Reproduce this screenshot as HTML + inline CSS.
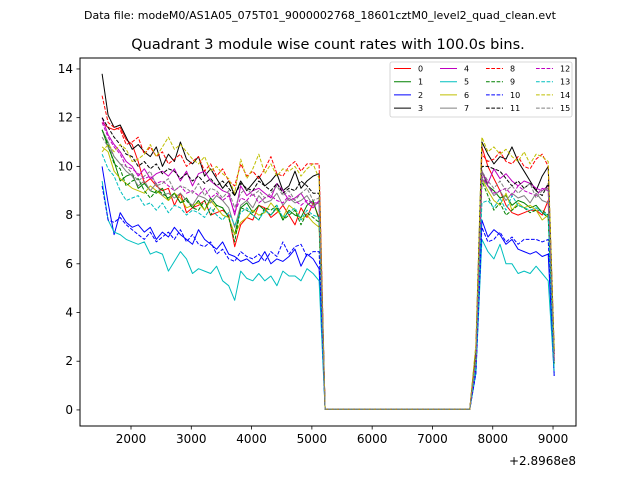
<!DOCTYPE html>
<html><head><meta charset="utf-8"><style>
body{margin:0;background:#fff;font-family:"Liberation Sans","DejaVu Sans",sans-serif;}
svg text{font-family:"DejaVu Sans","Liberation Sans",sans-serif;}
</style></head><body>
<svg id="chart" width="640" height="480" xmlns="http://www.w3.org/2000/svg">
<rect width="640" height="480" fill="#fff"/>
<text x="320" y="19" font-size="11" text-anchor="middle">Data file: modeM0/AS1A05_075T01_9000002768_18601cztM0_level2_quad_clean.evt</text>
<text x="328" y="49" font-size="14.5" text-anchor="middle">Quadrant 3 module wise count rates with 100.0s bins.</text>
<g id="plot"></g>
<rect x="80" y="58" width="496" height="368" fill="none" stroke="#000" stroke-width="1"/>
<g id="axes"></g>
<text x="576" y="465" font-size="12" text-anchor="end">+2.8968e8</text>
<g id="legend"></g>
</svg>
<script>
const seriesNames = ["0","1","2","3","4","5","6","7","8","9","10","11","12","13","14","15"];
const startTime = 1520;
const binSize = 100;
const xTicks = [2000,3000,4000,5000,6000,7000,8000,9000];
const yTicks = [0,2,4,6,8,10,12,14];
const offZeros = [0.03,0.03,0.03,0.03,0.03,0.03,0.03,0.03,0.03,0.03,0.03,0.03,0.03,0.03,0.03,0.03,0.03,0.03,0.03,0.03,0.03,0.03,0.03,0.03,0.03];
const rampUp = [2.2,2.0,1.6,2.5,2.1,1.5,2.3,2.0,2.6,1.9,1.5,2.4,2.0,1.8,2.7,2.1];
const rampDown = [2.2,2.0,1.4,2.4,2.1,1.5,2.3,2.0,2.5,1.9,1.4,2.3,2.0,1.6,2.5,2.0];
const seg1 = [
[11.8,11.6,11.5,11.6,11.1,10.9,10.2,9.3,9.5,9.2,9.0,9.1,8.4,8.9,8.1,8.3,8.4,8.6,8.0,8.1,8.2,8.0,6.7,7.6,7.9,7.8,8.4,8.3,7.9,8.1,8.4,8.0,7.6,8.3,7.9,8.5,7.9],
[11.5,10.8,10.2,9.4,9.6,9.7,9.1,9.3,9.0,8.9,9.1,8.6,8.9,8.5,8.7,8.3,8.6,8.2,8.7,8.4,8.3,7.9,7.2,8.3,8.5,8.1,8.4,8.2,8.0,8.3,7.8,8.2,8.0,7.9,8.4,8.6,7.8],
[10.0,8.5,7.2,8.1,7.7,7.5,7.6,7.3,7.5,7.0,7.3,7.1,7.5,7.2,7.0,6.8,7.4,7.0,6.8,6.6,6.9,6.4,6.3,6.1,6.2,6.0,6.1,6.5,6.0,6.2,6.1,6.3,6.6,5.9,6.4,6.2,5.8],
[13.8,12.1,11.6,11.7,11.2,10.7,10.9,10.6,10.4,10.8,10.0,10.5,10.2,11.0,10.3,10.1,10.4,9.6,9.9,9.5,9.1,9.4,8.8,9.4,9.0,9.3,9.6,9.2,9.4,9.7,9.0,9.2,9.8,9.1,9.4,9.6,9.7],
[12.0,11.3,10.9,10.6,10.2,10.0,9.6,9.9,9.5,9.7,9.8,9.6,9.9,9.4,9.8,9.2,9.7,9.8,9.4,9.2,9.0,8.9,8.0,9.2,8.8,9.0,9.1,8.9,8.7,9.3,9.0,8.6,8.7,8.9,8.5,8.3,8.6],
[9.4,7.8,7.3,7.2,7.0,6.9,6.8,6.9,6.4,6.5,6.4,5.7,6.1,6.5,6.2,5.6,5.8,5.7,5.6,5.9,5.3,5.1,4.5,5.7,5.4,5.3,5.6,5.3,5.5,5.1,5.7,5.5,5.5,5.3,5.8,5.6,5.3],
[10.8,10.6,9.8,9.5,9.3,9.1,9.0,8.9,9.2,9.0,8.8,8.6,8.9,8.7,8.3,8.4,8.5,8.2,8.6,8.3,8.0,7.9,7.2,7.7,7.9,8.2,8.0,8.1,8.5,8.2,7.9,8.4,8.2,7.8,8.0,7.7,7.5],
[11.5,11.0,10.4,10.1,9.8,9.6,9.2,9.4,9.0,9.3,8.8,8.9,8.7,8.9,8.6,8.4,8.8,8.7,8.5,8.8,8.6,8.3,7.5,8.4,8.6,8.3,8.8,8.5,8.6,8.9,8.4,8.7,8.5,8.6,8.8,8.4,8.5],
[12.9,11.8,11.6,11.5,10.9,11.0,11.2,10.5,10.8,10.4,10.6,10.1,10.3,10.5,10.0,10.2,10.4,9.8,10.1,9.6,9.9,9.4,9.2,10.1,9.6,9.8,9.5,9.9,10.4,9.7,9.6,10.0,10.2,9.8,10.1,10.1,10.1],
[11.5,10.9,10.1,9.9,9.2,9.4,9.5,9.0,8.7,9.0,8.9,8.7,8.9,8.5,8.6,8.3,8.2,8.6,8.0,8.4,8.3,7.9,6.9,8.3,8.2,8.0,7.8,8.3,8.2,8.4,7.8,8.0,8.2,7.6,8.1,7.9,7.7],
[9.2,7.8,7.7,7.9,7.6,7.4,7.2,7.0,7.3,6.9,7.1,7.3,7.0,7.4,6.9,7.2,6.8,6.7,6.9,6.4,6.6,6.2,6.1,6.5,6.3,6.2,6.4,6.1,6.5,6.3,6.9,6.4,6.7,6.8,6.3,6.5,6.5],
[12.0,11.6,11.2,10.9,10.5,10.4,10.0,10.2,9.9,10.1,9.7,9.9,9.8,9.5,9.7,9.4,9.6,9.3,9.5,9.2,9.4,9.1,8.8,9.3,9.1,9.0,9.4,9.2,9.0,9.3,8.9,9.1,9.0,9.4,9.2,8.9,8.9],
[11.8,11.2,10.8,10.5,10.0,9.9,9.7,9.5,9.6,9.3,9.4,9.2,9.0,9.2,8.9,9.0,8.8,9.1,8.7,8.9,8.6,8.8,8.1,8.7,8.6,8.9,8.5,8.7,8.8,8.6,8.5,8.8,8.6,8.4,8.6,8.5,8.5],
[10.5,9.9,9.6,9.0,8.6,8.7,8.8,8.4,8.5,8.2,8.5,8.1,8.4,8.3,8.0,8.2,8.1,7.9,8.3,8.0,7.8,8.1,7.6,8.1,8.3,8.0,7.8,8.2,8.0,8.4,7.9,8.1,8.3,7.8,8.2,8.0,7.9],
[10.6,10.9,10.6,10.9,10.7,10.2,10.3,10.5,10.9,10.4,10.8,11.2,10.7,10.9,10.6,10.3,10.1,10.4,9.8,10.0,9.7,9.5,8.9,10.3,9.5,9.9,10.5,9.7,10.1,9.6,9.9,9.8,10.0,9.6,9.9,10.1,9.5],
[11.2,10.8,10.4,10.1,10.0,9.7,9.4,9.6,9.8,9.2,9.3,9.5,9.0,9.2,9.1,8.9,9.3,8.8,9.1,9.0,8.7,9.0,8.3,8.9,9.1,8.8,9.0,8.7,8.9,9.2,8.8,9.0,8.6,8.9,9.1,8.6,8.7]
];
const seg2 = [
[10.8,10.0,9.5,9.0,8.4,8.1,8.0,8.1,8.2,8.2,8.0,8.6],
[9.8,9.2,9.0,8.7,8.8,8.4,8.6,8.5,8.3,8.4,8.1,7.9],
[7.8,7.1,7.4,7.2,6.8,7.0,6.6,6.5,6.4,6.5,6.3,6.4],
[11.0,10.5,10.1,10.4,10.3,10.8,10.2,9.8,9.4,9.0,9.6,10.0],
[9.8,9.3,9.9,9.5,9.7,9.4,9.2,9.4,9.3,9.1,9.0,9.2],
[7.0,6.5,6.2,6.8,6.0,6.0,5.6,5.7,5.6,5.9,5.6,5.3],
[9.5,9.0,8.6,8.4,8.9,8.2,8.5,8.3,8.4,8.2,7.8,8.0],
[9.5,9.2,8.8,9.0,8.6,8.9,8.7,8.8,8.5,8.9,8.6,8.5],
[10.5,10.2,10.3,10.6,10.2,10.1,10.4,10.0,9.9,10.3,10.5,10.0],
[9.4,8.8,8.2,8.5,8.0,8.2,8.4,8.3,8.1,8.2,8.2,8.0],
[7.5,6.9,7.0,7.3,6.9,7.1,6.8,7.0,7.0,7.0,6.9,7.0],
[10.0,10.0,9.9,9.8,9.5,9.2,9.4,9.1,9.3,9.0,8.8,9.3],
[9.6,9.2,8.9,9.0,9.1,8.8,9.2,9.0,8.9,8.8,9.1,9.0],
[8.5,8.6,8.3,8.7,8.2,8.8,8.4,8.3,8.2,8.3,8.1,8.0],
[11.2,10.6,10.8,10.5,10.7,10.4,10.2,10.6,10.1,10.5,10.4,10.2],
[9.8,9.4,9.1,9.4,9.0,9.2,8.9,9.1,9.3,8.7,9.0,9.1]
];
const colors = ["#ff0000","#008000","#0000ff","#000000","#bf00bf","#00bfbf","#bfbf00","#808080"];

const L=80,R=576,T=58,B=426, X0=1154, X1=9381, Y0=-0.66, Y1=14.45;
const sx=v=>L+(v-X0)/(X1-X0)*(R-L);
const sy=v=>B-(v-Y0)/(Y1-Y0)*(B-T);
const NS="http://www.w3.org/2000/svg";
function mk(tag,attrs,parent){const e=document.createElementNS(NS,tag);for(const k in attrs)e.setAttribute(k,attrs[k]);parent.appendChild(e);return e;}
const plot=document.getElementById('plot');
for(let k=0;k<seriesNames.length;k++){
  const vals=seg1[k].concat(offZeros,[rampUp[k]],seg2[k],[rampDown[k]]);
  const pts=vals.map((v,i)=>sx(startTime+i*binSize).toFixed(1)+","+sy(v).toFixed(1)).join(" ");
  const p=mk('polyline',{points:pts,fill:'none',stroke:colors[k%8],'stroke-width':1,'stroke-linejoin':'round'},plot);
  if(k>=8)p.setAttribute('stroke-dasharray','3.7,1.6');
  
  
}
const axes=document.getElementById('axes');
xTicks.forEach(t=>{
  const x=sx(t);
  const l=mk('line',{x1:x,x2:x,y1:B,y2:B+3.5,stroke:'#000','stroke-width':0.8},axes);
  
  
  const tx=mk('text',{x:x,y:B+17,'font-size':12,'text-anchor':'middle'},axes);
  tx.textContent=t;
  
  
});
yTicks.forEach(t=>{
  const y=sy(t);
  const l=mk('line',{x1:L-3.5,x2:L,y1:y,y2:y,stroke:'#000','stroke-width':0.8},axes);
  
  
  const tx=mk('text',{x:L-7,y:y+4,'font-size':12,'text-anchor':'end'},axes);
  tx.textContent=t;
  
  
});
const lg=document.getElementById('legend');
const box=mk('rect',{x:390,y:62,width:182,height:55,rx:2,fill:'#fff','fill-opacity':0.8,stroke:'#ccc','stroke-width':0.8},lg);


const colX=[394,440,486,536];
for(let k=0;k<seriesNames.length;k++){
  const c=Math.floor(k/4), r=k%4, y=68.5+r*13.2;
  const ln=mk('line',{x1:colX[c],x2:colX[c]+17,y1:y,y2:y,stroke:colors[k%8],'stroke-width':1},lg);
  if(k>=8)ln.setAttribute('stroke-dasharray','3.7,1.6');
  
  
  const tx=mk('text',{x:colX[c]+24,y:y+3,'font-size':8},lg);
  tx.textContent=seriesNames[k];
  
  
}
</script>
</body></html>
